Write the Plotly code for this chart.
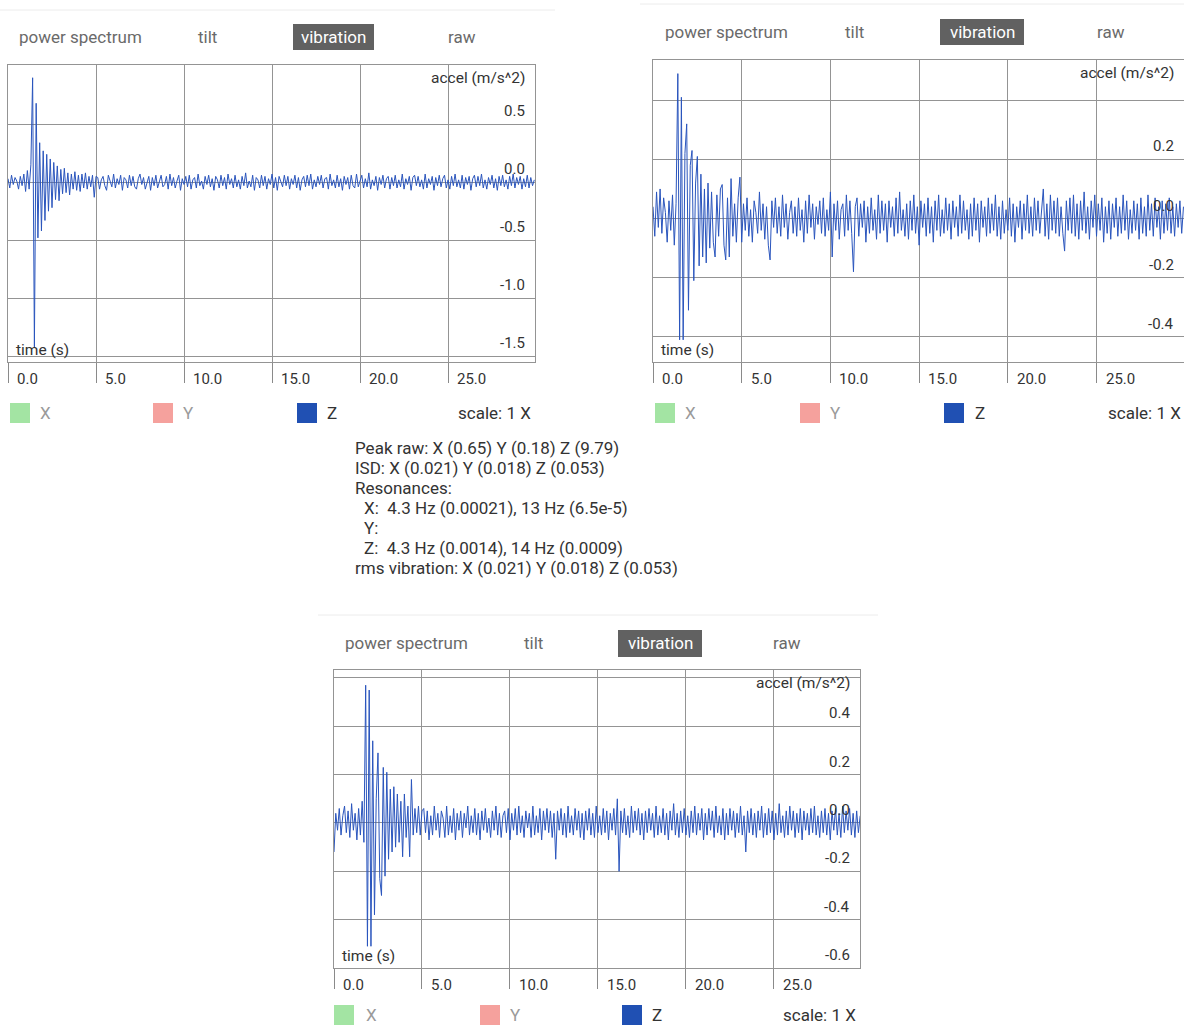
import plotly.graph_objects as go

# ---------------- data ----------------
DT = 0.1  # seconds between samples
X_TICKS = [0, 5, 10, 15, 20, 25]
X_TICK_LABELS = ["0.0", "5.0", "10.0", "15.0", "20.0", "25.0"]

Z1 = [0.03, -0.05, 0.06, -0.02, 0.04, 0.01, -0.06, 0.05, -0.03, 0.07, -0.08, 0.10, -0.06,
      0.15, 0.90, -1.42, 0.68, -0.48, 0.34, -0.42, 0.27, -0.33, 0.24, -0.25, 0.20,
      -0.22, 0.17, -0.15, 0.14, -0.16, 0.11, -0.10, 0.12, -0.09, 0.08, -0.11, 0.07,
      -0.06, 0.09, -0.07, 0.06, -0.08, 0.07, -0.05, 0.08, -0.06, 0.05, -0.04, 0.06,
      -0.13, 0.05,
      0.04, -0.06, 0.02, 0.05, -0.03, -0.07, 0.06, 0.01, -0.04, 0.07,
      -0.05, 0.03, -0.02, 0.06, -0.07, 0.04, 0.02, -0.05, 0.06, -0.03,
      0.05, -0.04, -0.06, 0.03, 0.07, -0.02, 0.04, -0.06, 0.01, 0.05,
      -0.07, 0.04, -0.03, 0.06, -0.05, 0.02, 0.06, -0.04, -0.02, 0.05,
      -0.06, 0.07, -0.03, 0.04, -0.05, 0.01, 0.06, -0.07, 0.03, -0.02,
      0.05, -0.04, 0.06, -0.06, 0.02, 0.04, -0.05, 0.07, -0.03, 0.01,
      -0.06, 0.05, -0.02, 0.06, -0.04, 0.03, -0.07, 0.05, 0.02, -0.05,
      0.06, -0.03, 0.04, -0.06, 0.07, -0.02, 0.03, -0.05, 0.06, -0.04,
      0.02, -0.06, 0.05, -0.03, 0.08, -0.05, 0.01, -0.04, 0.06, -0.07,
      0.04, 0.02, -0.05, 0.06, -0.03, 0.05, -0.06, 0.03, -0.02, 0.07,
      -0.05, 0.04, -0.07, 0.05, 0.01, -0.04, 0.06, -0.03, 0.05, -0.06,
      0.03, -0.02, 0.06, -0.05, 0.04, -0.07, 0.02, 0.05, -0.04, 0.06,
      -0.03, 0.07, -0.06, 0.02, -0.04, 0.05, -0.02, 0.06, -0.05, 0.03,
      0.04, -0.06, 0.07, -0.03, 0.02, -0.05, 0.06, -0.04, 0.03, -0.07,
      0.05, -0.02, 0.04, -0.06, 0.06, -0.03, -0.05, 0.07, -0.04, 0.02,
      0.06, -0.05, 0.03, -0.04, 0.08, -0.06, 0.02, -0.03, 0.05, -0.07,
      0.04, -0.02, 0.06, -0.05, 0.03, 0.05, -0.06, 0.04, -0.03, 0.06,
      -0.05, 0.02, -0.04, 0.07, -0.06, 0.03, -0.02, 0.05, -0.07, 0.04,
      0.06, -0.03, 0.05, -0.04, 0.02, -0.06, 0.07, -0.05, 0.03, -0.02,
      0.05, -0.07, 0.04, -0.03, 0.06, -0.04, 0.03, 0.06, -0.05, 0.02,
      -0.06, 0.05, -0.03, 0.07, -0.04, 0.02, -0.05, 0.06, -0.06, 0.04,
      -0.02, 0.05, -0.07, 0.03, 0.06, -0.04, 0.05, -0.03, 0.07, -0.05,
      0.02, -0.06, 0.04, -0.02, 0.06, -0.05, 0.03, -0.07, 0.05, -0.03,
      0.06, -0.04, 0.02, -0.06, 0.05, -0.03, 0.07, -0.05, 0.04, -0.02,
      0.05, -0.06, 0.03, -0.04, 0.06, -0.05, 0.04, -0.03, 0.02]

Z2 = [0.04, -0.06, 0.09, -0.03, 0.10, -0.05, 0.07, 0.02, -0.08, 0.06, -0.04, 0.08, -0.09, 0.05,
      0.49, -0.41, 0.41, -0.41, 0.22, 0.32, -0.31, 0.18, 0.23, -0.21, 0.12,
      0.21, -0.16, 0.15, -0.13, 0.10, -0.15, 0.12, -0.10, 0.09, -0.08,
      -0.13, 0.08, -0.06, 0.10, 0.115, -0.09, -0.14, 0.07, -0.13, 0.135,
      -0.06, 0.05, -0.08, 0.07, 0.14, -0.08,
      0.05, -0.04, 0.07, -0.06, 0.03, -0.08, 0.06, 0.02, -0.05, 0.09,
      -0.04, 0.05, -0.07, 0.04, -0.09, -0.14, 0.06, -0.03, 0.07, -0.05,
      0.04, -0.06, 0.08, -0.03, 0.05, -0.07, 0.02, 0.06, -0.05, 0.04,
      -0.06, 0.07, -0.04, 0.03, -0.08, 0.06, -0.05, 0.08, -0.03, 0.05,
      -0.07, 0.04, -0.02, 0.06, -0.05, 0.07, -0.06, 0.03, -0.04, 0.09,
      -0.13, 0.05, -0.04, 0.06, -0.07, 0.03, 0.05, -0.06, 0.08, -0.04,
      0.06, -0.05, -0.18, 0.04, 0.07, -0.06, 0.05, -0.03, 0.06, -0.08,
      0.04, -0.05, 0.07, -0.04, 0.03, -0.07, 0.08, -0.05, 0.06, -0.04,
      0.05, -0.08, 0.06, -0.03, 0.04, -0.06, 0.07, -0.05, 0.09, -0.04,
      0.03, -0.06, 0.05, -0.07, 0.06, -0.04, 0.08, -0.05, 0.04, -0.09,
      0.06, -0.03, 0.05, -0.06, 0.07, -0.05, 0.04, -0.08, 0.06, -0.04,
      0.08, -0.06, 0.03, -0.05, 0.07, -0.04, 0.05, -0.07, 0.06, -0.03,
      0.04, -0.06, 0.08, -0.05, 0.06, -0.04, 0.03, -0.07, 0.05, -0.06,
      0.07, -0.04, 0.05, -0.08, 0.06, -0.03, 0.04, -0.06, 0.07, -0.05,
      0.05, -0.04, 0.08, -0.06, 0.04, -0.07, 0.06, -0.05, 0.03, -0.04,
      0.07, -0.06, 0.05, -0.08, 0.04, -0.03, 0.06, -0.07, 0.05, -0.04,
      0.08, -0.05, 0.04, -0.06, 0.07, -0.04, 0.06, -0.05, 0.03, 0.10,
      -0.06, 0.05, -0.07, 0.08, -0.04, 0.06, -0.05, 0.07, -0.06, 0.04,
      -0.05, -0.11, 0.06, -0.04, 0.07, -0.05, 0.08, -0.06, 0.05, -0.07,
      0.06, -0.04, 0.09, -0.05, 0.04, -0.07, 0.06, -0.03, 0.08, -0.06,
      0.05, -0.04, 0.07, -0.08, 0.04, -0.05, 0.06, -0.07, 0.05, -0.03,
      0.07, -0.06, 0.04, -0.05, 0.08, -0.04, 0.06, -0.07, 0.03, -0.05,
      0.06, -0.04, 0.05, -0.07, 0.07, -0.05, 0.04, -0.06, 0.08, -0.04,
      0.05, -0.06, 0.07, -0.03, 0.04, -0.07, 0.06, -0.05, 0.05, -0.04,
      0.07, -0.05, 0.04, -0.06, 0.05, -0.03, 0.06, -0.05, 0.04]

Z3 = [-0.12, 0.04, -0.03, 0.06, -0.05, 0.03, 0.07, -0.04, 0.05, -0.06, 0.08, -0.03,
      0.04, -0.07, 0.06, -0.05, 0.09, -0.08,
      0.57, -0.51, 0.55, -0.51, 0.34, -0.38, 0.10, 0.29, -0.23, -0.30, 0.23, -0.22,
      0.21, -0.15, 0.14, -0.12, 0.15, -0.10, 0.12, -0.08, 0.09, -0.14,
      0.12, -0.06, 0.07, -0.14, 0.18, -0.05, 0.06, -0.04, 0.07, -0.05, 0.05,
      0.06, -0.04, 0.05, -0.07, 0.03, -0.05, 0.07, -0.03, 0.04, -0.06,
      0.05, 0.02, -0.06, 0.07, -0.05, 0.03, -0.04, 0.06, -0.07, 0.04,
      -0.03, 0.05, -0.06, 0.04, -0.02, 0.07, -0.05, 0.03, -0.04, 0.06,
      -0.05, 0.04, -0.07, 0.05, -0.03, 0.06, -0.04, 0.02, -0.06, 0.05,
      -0.03, 0.07, -0.05, 0.04, -0.06, 0.03, 0.05, -0.04, 0.06, -0.07,
      0.04, -0.03, 0.06, -0.05, 0.07, -0.04, 0.03, -0.06, 0.05, -0.02,
      0.04, -0.06, 0.07, -0.05, 0.03, -0.04, 0.06, -0.07, 0.05, -0.03,
      0.06, -0.04, 0.05, -0.06, 0.04, -0.15, 0.05, -0.03, 0.06, -0.05,
      0.04, -0.06, 0.07, -0.04, 0.03, -0.05, 0.06, -0.03, 0.05, -0.06,
      0.04, -0.07, 0.05, -0.03, 0.06, -0.05, 0.04, -0.06, 0.07, -0.04,
      0.03, -0.05, 0.06, -0.04, 0.05, -0.07, 0.04, -0.03, 0.06, -0.05,
      0.10, -0.20, 0.05, -0.04, 0.06, -0.05, 0.03, -0.06, 0.07, -0.04,
      0.05, -0.03, 0.06, -0.05, 0.04, -0.07, 0.05, -0.04, 0.06, -0.03,
      0.04, -0.06, 0.07, -0.05, 0.03, -0.04, 0.06, -0.05, 0.04, -0.07,
      0.05, -0.03, 0.08, -0.05, 0.04, -0.06, 0.05, -0.04, 0.06, -0.05,
      0.03, -0.06, 0.05, -0.04, 0.07, -0.05, 0.04, -0.03, 0.06, -0.07,
      0.04, -0.05, 0.06, -0.03, 0.05, -0.06, 0.07, -0.04, 0.03, -0.05,
      0.06, -0.07, 0.04, -0.05, 0.06, -0.03, 0.05, -0.06, 0.04, -0.04,
      0.07, -0.05, 0.03, -0.12, 0.05, -0.04, 0.06, -0.05, 0.04, -0.06,
      0.05, -0.03, 0.07, -0.06, 0.04, -0.05, 0.06, -0.04, 0.05, -0.07,
      0.04, -0.05, 0.08, -0.04, 0.03, -0.06, 0.05, -0.05, 0.07, -0.03,
      0.05, -0.06, 0.04, -0.04, 0.06, -0.07, 0.05, -0.03, 0.04, -0.05,
      0.06, -0.04, 0.07, -0.05, 0.03, -0.06, 0.05, -0.04, 0.06, -0.05,
      0.04, -0.07, 0.05, -0.03, 0.06, -0.05, 0.04, -0.06, 0.07, -0.04,
      0.05, -0.03, 0.06, -0.05, 0.04, -0.06, 0.05, -0.04, 0.03]

Y_TICKS_1 = [0.5, 0.0, -0.5, -1.0, -1.5]
Y_LABELS_1 = ["0.5", "0.0", "-0.5", "-1.0", "-1.5"]
Y_TICKS_2 = [0.4, 0.2, 0.0, -0.2, -0.4]
Y_LABELS_2 = [None, "0.2", "0.0", "-0.2", "-0.4"]
Y_TICKS_3 = [0.6, 0.4, 0.2, 0.0, -0.2, -0.4, -0.6]
Y_LABELS_3 = [None, "0.4", "0.2", "0.0", "-0.2", "-0.4", "-0.6"]

TABS = ["power spectrum", "tilt", "vibration", "raw"]
LEGEND = ["X", "Y", "Z"]
STATS = [
    ("Peak raw: X (0.65) Y (0.18) Z (9.79)", 0),
    ("ISD: X (0.021) Y (0.018) Z (0.053)", 0),
    ("Resonances:", 0),
    ("X:\u00a0 4.3 Hz (0.00021), 13 Hz (6.5e-5)", 1),
    ("Y:", 1),
    ("Z:\u00a0 4.3 Hz (0.0014), 14 Hz (0.0009)", 1),
    ("rms vibration: X (0.021) Y (0.018) Z (0.053)", 0),
]

# ---------------- layout helpers ----------------
W, H = 1184, 1025
FONT = "Roboto"
LINE = "#2a55bd"
GRID = "#949494"


def px(x):
    return x / W


def py(y):
    return 1 - y / H


panels = [
    dict(z=Z1, frame=(8, 535, 65, 362), yr=[-1.55, 1.01], xr=[0, 29.94],
         yt=Y_TICKS_1, yl=Y_LABELS_1, mirror_y=True,
         tabs=[80, 207, 333, 462], tab_y=37, tab_box=(293, 374, 24, 50),
         sep=(0, 555, 10), leg_y=413, sq=[10, 153, 297], lt=[45, 188, 332], scale_x=533),
    dict(z=Z2, frame=(653, 1184, 60, 362), yr=[-0.485, 0.536], xr=[0, 29.93],
         yt=Y_TICKS_2, yl=Y_LABELS_2, mirror_y=False,
         tabs=[726, 854, 982, 1111], tab_y=32, tab_box=(940, 1024, 19, 45),
         sep=(640, 1184, 4), leg_y=413, sq=[655, 800, 944], lt=[690, 836, 980], scale_x=1183),
    dict(z=Z3, frame=(334, 860, 670, 968), yr=[-0.6, 0.633], xr=[0, 29.89],
         yt=Y_TICKS_3, yl=Y_LABELS_3, mirror_y=True,
         tabs=[406, 533, 660, 787], tab_y=643, tab_box=(618, 702, 630, 657),
         sep=(318, 878, 615), leg_y=1015, sq=[334, 480, 622], lt=[371, 515, 657], scale_x=858),
]

fig = go.Figure()
annotations = []
shapes = []
SQ_COLORS = ["#a3e4a3", "#f5a19d", "#2050b3"]
LEG_TEXT_COLORS = ["#9a9a9a", "#9a9a9a", "#333333"]

for i, p in enumerate(panels):
    n = "" if i == 0 else str(i + 1)
    l, r, t, b = p["frame"]
    times = [round(k * DT, 2) for k in range(len(p["z"]))]
    fig.add_trace(go.Scatter(x=times, y=p["z"], mode="lines",
                             line=dict(color=LINE, width=1),
                             xaxis="x" + n, yaxis="y" + n, showlegend=False,
                             hoverinfo="skip"))
    fig.layout["xaxis" + n] = dict(
        domain=[px(l), px(r)], range=p["xr"], anchor="y" + n,
        tickvals=X_TICKS, showticklabels=False, ticks="outside", ticklen=20,
        tickcolor="#8a8a8a", tickwidth=1,
        showgrid=True, gridcolor=GRID, gridwidth=1, zeroline=False,
        showline=True, linecolor=GRID, linewidth=1, mirror=True, fixedrange=True)
    fig.layout["yaxis" + n] = dict(
        domain=[py(b), py(t)], range=p["yr"], anchor="x" + n,
        tickvals=p["yt"], showticklabels=False, ticks="",
        showgrid=True, gridcolor=GRID, gridwidth=1, zeroline=False,
        showline=True, linecolor=GRID, linewidth=1, mirror=p["mirror_y"], fixedrange=True)

    xd = "x" + n + " domain"
    yd = "y" + n + " domain"
    for v, lab in zip(p["yt"], p["yl"]):
        if lab is None:
            continue
        annotations.append(dict(text=lab, xref=xd, x=1, xanchor="right", xshift=-8,
                                yref="y" + n, y=v, yanchor="middle", yshift=13,
                                showarrow=False, font=dict(family=FONT, size=15, color="#333")))
    for v, lab in zip(X_TICKS, X_TICK_LABELS):
        annotations.append(dict(text=lab, xref="x" + n, x=v, xanchor="left", xshift=7,
                                yref=yd, y=0, yanchor="top", yshift=-6,
                                showarrow=False, font=dict(family=FONT, size=15, color="#333")))
    annotations.append(dict(text="accel (m/s^2)", xref=xd, x=1, xanchor="right", xshift=-8,
                            yref=yd, y=1, yanchor="middle", yshift=-13,
                            showarrow=False, font=dict(family=FONT, size=15.5, color="#333")))
    annotations.append(dict(text="time (s)", xref=xd, x=0, xanchor="left", xshift=6,
                            yref=yd, y=0, yanchor="middle", yshift=12,
                            showarrow=False, font=dict(family=FONT, size=15.5, color="#333")))
    bx0, bx1, by0, by1 = p["tab_box"]
    shapes.append(dict(type="rect", xref="paper", yref="paper",
                       x0=px(bx0), x1=px(bx1), y0=py(by1), y1=py(by0),
                       fillcolor="#616161", line=dict(width=0), layer="below"))
    for label, cx in zip(TABS, p["tabs"]):
        sel = label == "vibration"
        annotations.append(dict(text=label, xref="paper", x=px(cx), xanchor="center",
                                yref="paper", y=py(p["tab_y"]), yanchor="middle",
                                showarrow=False,
                                font=dict(family=FONT, size=17, color="#ffffff" if sel else "#6a6a6a")))
    sx0, sx1, sy = p["sep"]
    shapes.append(dict(type="line", xref="paper", yref="paper", x0=px(sx0), x1=px(sx1),
                       y0=py(sy), y1=py(sy), line=dict(color="#ececec", width=1)))
    for lab, sx, tx, c, tc in zip(LEGEND, p["sq"], p["lt"], SQ_COLORS, LEG_TEXT_COLORS):
        shapes.append(dict(type="rect", xref="paper", yref="paper",
                           x0=px(sx), x1=px(sx + 20), y0=py(p["leg_y"] + 10), y1=py(p["leg_y"] - 10),
                           fillcolor=c, line=dict(width=0)))
        annotations.append(dict(text=lab, xref="paper", x=px(tx), xanchor="center",
                                yref="paper", y=py(p["leg_y"]), yanchor="middle",
                                showarrow=False, font=dict(family=FONT, size=17, color=tc)))
    annotations.append(dict(text="scale: 1 X", xref="paper", x=px(p["scale_x"]), xanchor="right",
                            yref="paper", y=py(p["leg_y"]), yanchor="middle",
                            showarrow=False, font=dict(family=FONT, size=17, color="#333")))

for k, (line, indent) in enumerate(STATS):
    annotations.append(dict(text=line, xref="paper", x=px(353 + 9 * indent), xanchor="left",
                            yref="paper", y=py(448 + 20 * k), yanchor="middle",
                            showarrow=False, font=dict(family=FONT, size=17, color="#333")))

fig.update_layout(width=W, height=H, margin=dict(l=0, r=0, t=0, b=0),
                  paper_bgcolor="white", plot_bgcolor="white",
                  annotations=annotations, shapes=shapes, showlegend=False)

fig.write_html("out.html", config=dict(displayModeBar=False),
               post_script="document.body.style.margin='0px';document.body.style.overflow='hidden';")
